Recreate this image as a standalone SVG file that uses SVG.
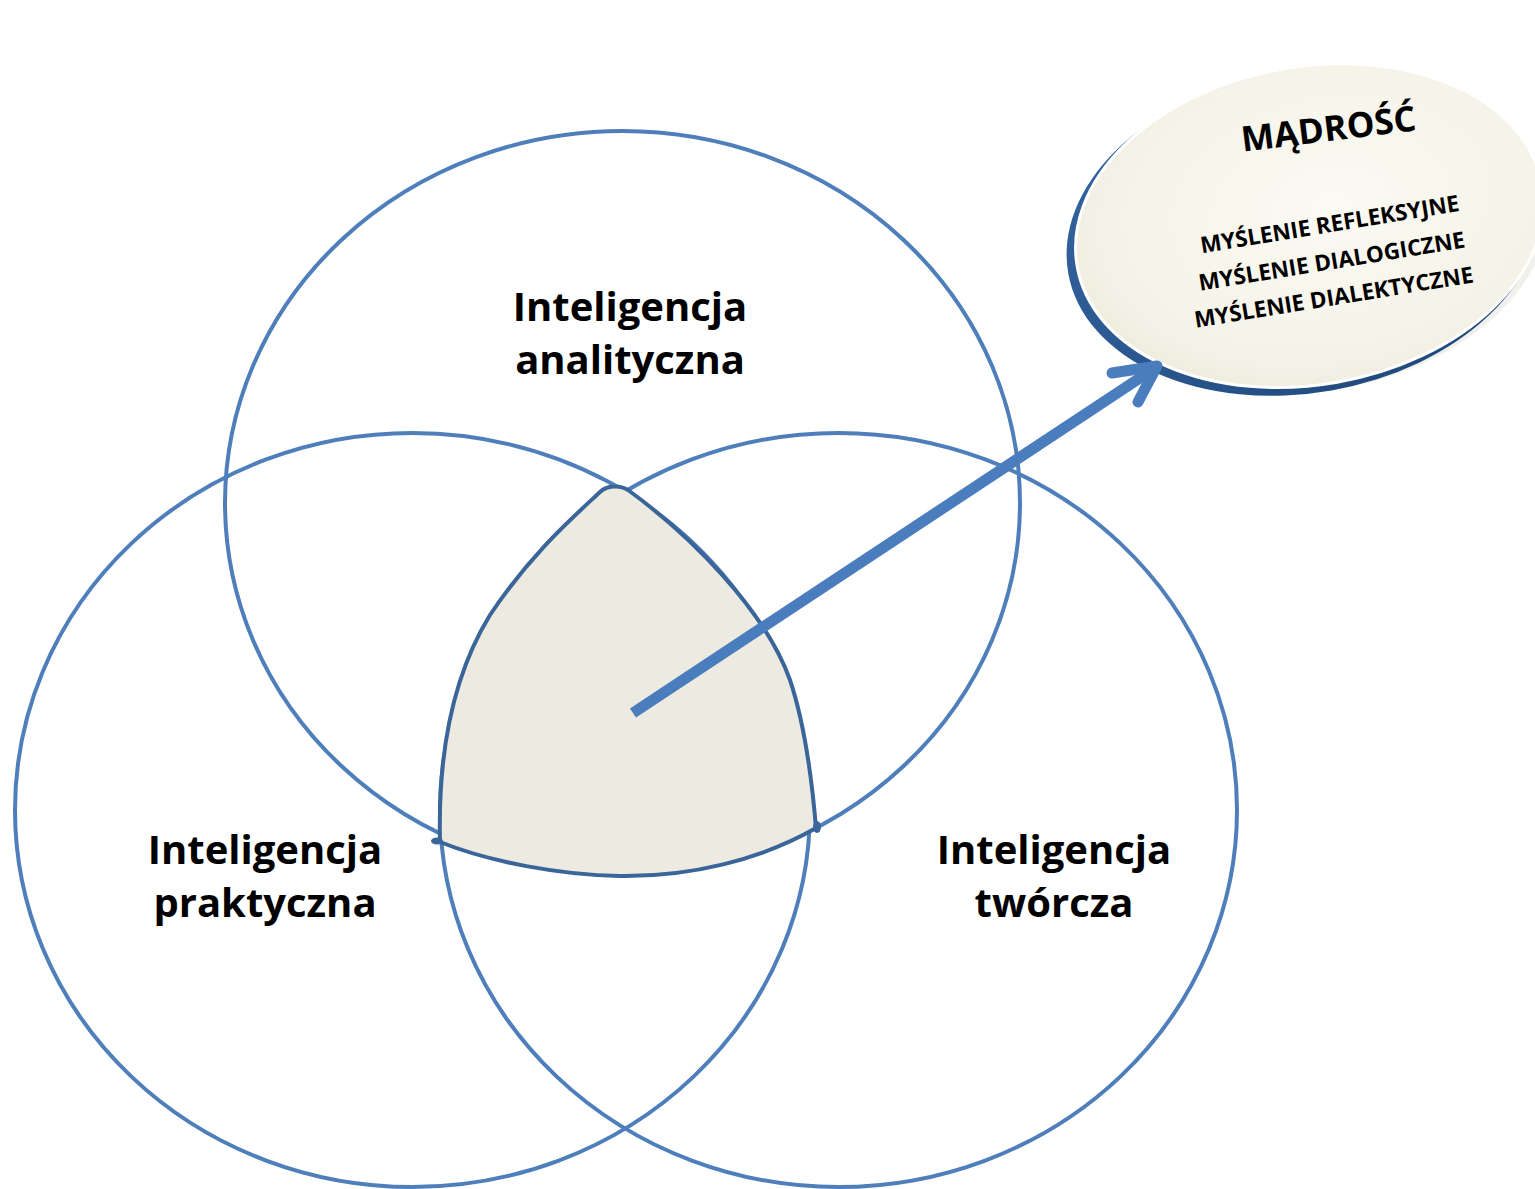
<svg xmlns="http://www.w3.org/2000/svg" width="1535" height="1189" viewBox="0 0 1535 1189">
  <defs>
    <radialGradient id="capFill" cx="0.55" cy="0.45" r="0.6">
      <stop offset="0" stop-color="#fbfaf3"/>
      <stop offset="0.8" stop-color="#f5f3e8"/>
      <stop offset="1" stop-color="#edeadd"/>
    </radialGradient>
    <linearGradient id="rimFill" x1="0" y1="0" x2="1" y2="1">
      <stop offset="0" stop-color="#3566a3"/>
      <stop offset="1" stop-color="#1d4577"/>
    </linearGradient>
  </defs>
  <style>
    .circle { fill: none; stroke: #4f7fbb; stroke-width: 4; }
    .label { font-family: "Open Sans", "Liberation Sans", sans-serif; font-weight: 700; font-size: 40px; fill: #000; text-anchor: middle; }
    .title { font-family: "Open Sans", "Liberation Sans", sans-serif; font-weight: 700; font-size: 35px; fill: #000; text-anchor: middle; }
    .sub { font-family: "Open Sans", "Liberation Sans", sans-serif; font-weight: 700; font-size: 22.5px; fill: #000; text-anchor: middle; }
  </style>
  <rect width="1535" height="1189" fill="#ffffff"/>

  <g id="circle-analityczna">
    <ellipse class="circle" cx="622.5" cy="503" rx="397.5" ry="372"/>
  </g>
  <g id="circle-praktyczna">
    <ellipse class="circle" cx="412.5" cy="810" rx="397.5" ry="377"/>
  </g>
  <g id="circle-tworcza">
    <ellipse class="circle" cx="838.5" cy="810" rx="398.5" ry="377"/>
  </g>

  <g id="intersection">
    <path d="M 628,490 C 690,535 765,610 790,680 C 805,725 812,780 816,828 C 760,860 690,877 620,876 C 560,875 490,862 440,842 C 438,760 450,680 490,615 C 530,555 570,520 600,492 C 607,485 620,485 628,490 Z" fill="#edeae1" stroke="#3a6599" stroke-width="4" stroke-linejoin="round"/>
    <ellipse cx="437" cy="841" rx="6" ry="3.5" fill="#3a6599"/>
    <ellipse cx="817" cy="827" rx="4" ry="6" fill="#3a6599"/>
  </g>

  <g id="label-analityczna">
    <text class="label" x="630" y="321">Inteligencja</text>
    <text class="label" x="630" y="374">analityczna</text>
  </g>
  <g id="label-praktyczna">
    <text class="label" x="265" y="864">Inteligencja</text>
    <text class="label" x="265" y="917">praktyczna</text>
  </g>
  <g id="label-tworcza">
    <text class="label" x="1054" y="864">Inteligencja</text>
    <text class="label" x="1054" y="917">twórcza</text>
  </g>

  <g id="madrosc">
    <g transform="rotate(-10 1308 228)">
      <ellipse cx="1312" cy="232" rx="238" ry="160" fill="#d6d3c8" opacity="0.35"/>
      <ellipse cx="1303" cy="231" rx="239" ry="161" fill="url(#rimFill)"/>
      <ellipse cx="1310" cy="226" rx="236" ry="159" fill="url(#capFill)" stroke="#ffffff" stroke-width="3"/>
    </g>
    <text class="title" x="1330" y="141" transform="rotate(-7 1330 141)">MĄDROŚĆ</text>
    <text class="sub" x="1331" y="232" transform="rotate(-9.3 1331 232)">MYŚLENIE REFLEKSYJNE</text>
    <text class="sub" x="1333" y="269" transform="rotate(-9.3 1333 269)">MYŚLENIE DIALOGICZNE</text>
    <text class="sub" x="1335" y="305" transform="rotate(-9.3 1335 305)">MYŚLENIE DIALEKTYCZNE</text>
  </g>

  <g id="connectors">
    <path d="M 633,713 L 1152,370" fill="none" stroke="#4a7dbd" stroke-width="11" stroke-linecap="butt"/>
    <path d="M 1112,373 L 1157,366 L 1138,402" fill="none" stroke="#4a7dbd" stroke-width="11" stroke-linecap="round" stroke-linejoin="round"/>
  </g>
</svg>
